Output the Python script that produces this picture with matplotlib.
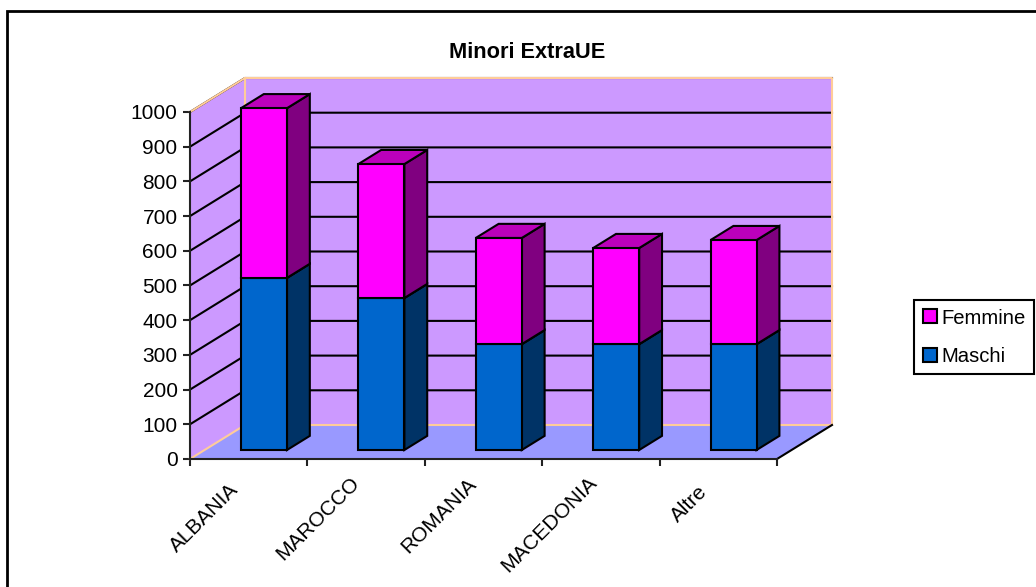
import numpy as np
import matplotlib
matplotlib.use("Agg")
import matplotlib.pyplot as plt
from matplotlib.patches import Patch, Polygon, Rectangle
from matplotlib.transforms import ScaledTranslation

categories = ["ALBANIA", "MAROCCO", "ROMANIA", "MACEDONIA", "Altre"]
maschi = [496, 438, 305, 305, 305]
femmine = [489, 386, 306, 277, 300]
y_ticks = list(range(0, 1001, 100))

W, H = 1036, 587
plt.rcParams["font.family"] = ["Liberation Sans", "DejaVu Sans"]

fig = plt.figure(figsize=(W / 100, H / 100), dpi=100)
ax = fig.add_axes([190 / W, (H - 459) / H, 587 / W, 347 / H])
ax.set_xlim(0, 5)
ax.set_ylim(0, 1000)
ax.patch.set_visible(False)

# oblique depth: full depth of the floor is 55px right, 34px up
DX = 55 / (587 / 5)
DY = 34 / (347 / 1000)


def proj(x, v, d):
    return (x + d * DX, v + d * DY)


def poly(pts, fc, ec="none", lw=0, z=1):
    ax.add_patch(Polygon(pts, closed=True, facecolor=fc, edgecolor=ec, linewidth=lw,
                         clip_on=False, zorder=z, joinstyle="miter"))


WALL = "#CC99FF"
FLOOR = "#9999FF"
EDGE = "#FFCC99"

# walls and floor
poly([proj(0, 0, 0), proj(0, 0, 1), proj(0, 1000, 1), proj(0, 1000, 0)], WALL)
poly([proj(0, 0, 1), proj(5, 0, 1), proj(5, 1000, 1), proj(0, 1000, 1)], WALL)
poly([proj(0, 0, 0), proj(5, 0, 0), proj(5, 0, 1), proj(0, 0, 1)], FLOOR)

# gridlines
for v in y_ticks[1:]:
    a, b, c = proj(0, v, 0), proj(0, v, 1), proj(5, v, 1)
    ax.plot([a[0], b[0], c[0]], [a[1], b[1], c[1]], color="black", lw=1.5, clip_on=False,
            zorder=2, solid_joinstyle="miter")

# light outline of the walls
outline = [proj(0, 0, 0), proj(0, 0, 1), proj(5, 0, 1), proj(5, 1000, 1), proj(0, 1000, 1), proj(0, 1000, 0)]
ax.plot(*zip(*outline), color=EDGE, lw=1.5, clip_on=False, zorder=3)
ax.plot(*zip(proj(0, 0, 1), proj(0, 1000, 1)), color=EDGE, lw=1.5, clip_on=False, zorder=3)
ax.plot(*zip(proj(5, 0, 0), proj(5, 0, 1)), color="black", lw=1.5, clip_on=False, zorder=3)

# bars
BAR_L = 0.31
BAR_W = 0.392
D0 = 0.265
D1 = 0.68
series = [
    (maschi, "#0066CC", "#004C99", "#003366"),
    (femmine, "#FF00FF", "#BB00BB", "#800080"),
]
for i in range(len(categories)):
    x0 = i + BAR_L
    x1 = x0 + BAR_W
    base = 0
    for vals, front, top, side in series:
        v = vals[i]
        t = base + v
        poly([proj(x1, base, D0), proj(x1, base, D1), proj(x1, t, D1), proj(x1, t, D0)], side, "black", 1.5, 5)
        poly([proj(x0, t, D0), proj(x1, t, D0), proj(x1, t, D1), proj(x0, t, D1)], top, "black", 1.5, 5)
        poly([proj(x0, base, D0), proj(x1, base, D0), proj(x1, t, D0), proj(x0, t, D0)], front, "black", 1.5, 6)
        base = t

# axes
for s in ["top", "right"]:
    ax.spines[s].set_visible(False)
for s in ["left", "bottom"]:
    ax.spines[s].set_linewidth(1.5)
    ax.spines[s].set_color("#222222")
    ax.spines[s].set_zorder(4)
ax.set_yticks(y_ticks)
ax.tick_params(axis="y", length=5, width=1.5, labelsize=15, pad=4, color="#222222")
ax.set_xticks(range(6))
ax.set_xticklabels([])
ax.tick_params(axis="x", which="major", length=5, width=1.5, color="#222222")
ax.set_xticks(np.arange(5) + 0.5, categories, minor=True, rotation=45, ha="right", rotation_mode="anchor")
ax.tick_params(axis="x", which="minor", length=0, labelsize=15, pad=15)

# the original labels do not sit evenly under their slots, nudge each one (px)
nudges = [(-20, 0), (-16, 7), (-17, 5), (-14, 7), (-21, -2)]
for lab, (nx, ny) in zip(ax.get_xticklabels(minor=True), nudges):
    lab.set_transform(lab.get_transform() + ScaledTranslation(nx / 100, ny / 100, fig.dpi_scale_trans))

fig.text(527 / W, 1 - 52 / H, "Minori ExtraUE", ha="center", va="center", fontsize=15.7, fontweight="bold")

# legend
handles = [Patch(facecolor="#FF00FF", edgecolor="black", linewidth=1.5, label="Femmine"),
           Patch(facecolor="#0066CC", edgecolor="black", linewidth=1.5, label="Maschi")]
leg = fig.legend(handles=handles, loc="upper left", bbox_to_anchor=(914 / W, 1 - 300 / H), borderaxespad=0,
                 fontsize=14.6, fancybox=False, framealpha=1, edgecolor="black", handlelength=0.69, handleheight=0.69,
                 handletextpad=0.25, borderpad=0.42, labelspacing=0.95)
leg.get_frame().set_linewidth(1.5)

# chart area border, runs off the right and bottom of the picture
fig.add_artist(Rectangle((7 / W, -0.05), 1.1, 1.05 - 11 / H, transform=fig.transFigure, facecolor="none",
                         edgecolor="black", linewidth=2, clip_on=False))

fig.savefig("out.png", dpi=100)
